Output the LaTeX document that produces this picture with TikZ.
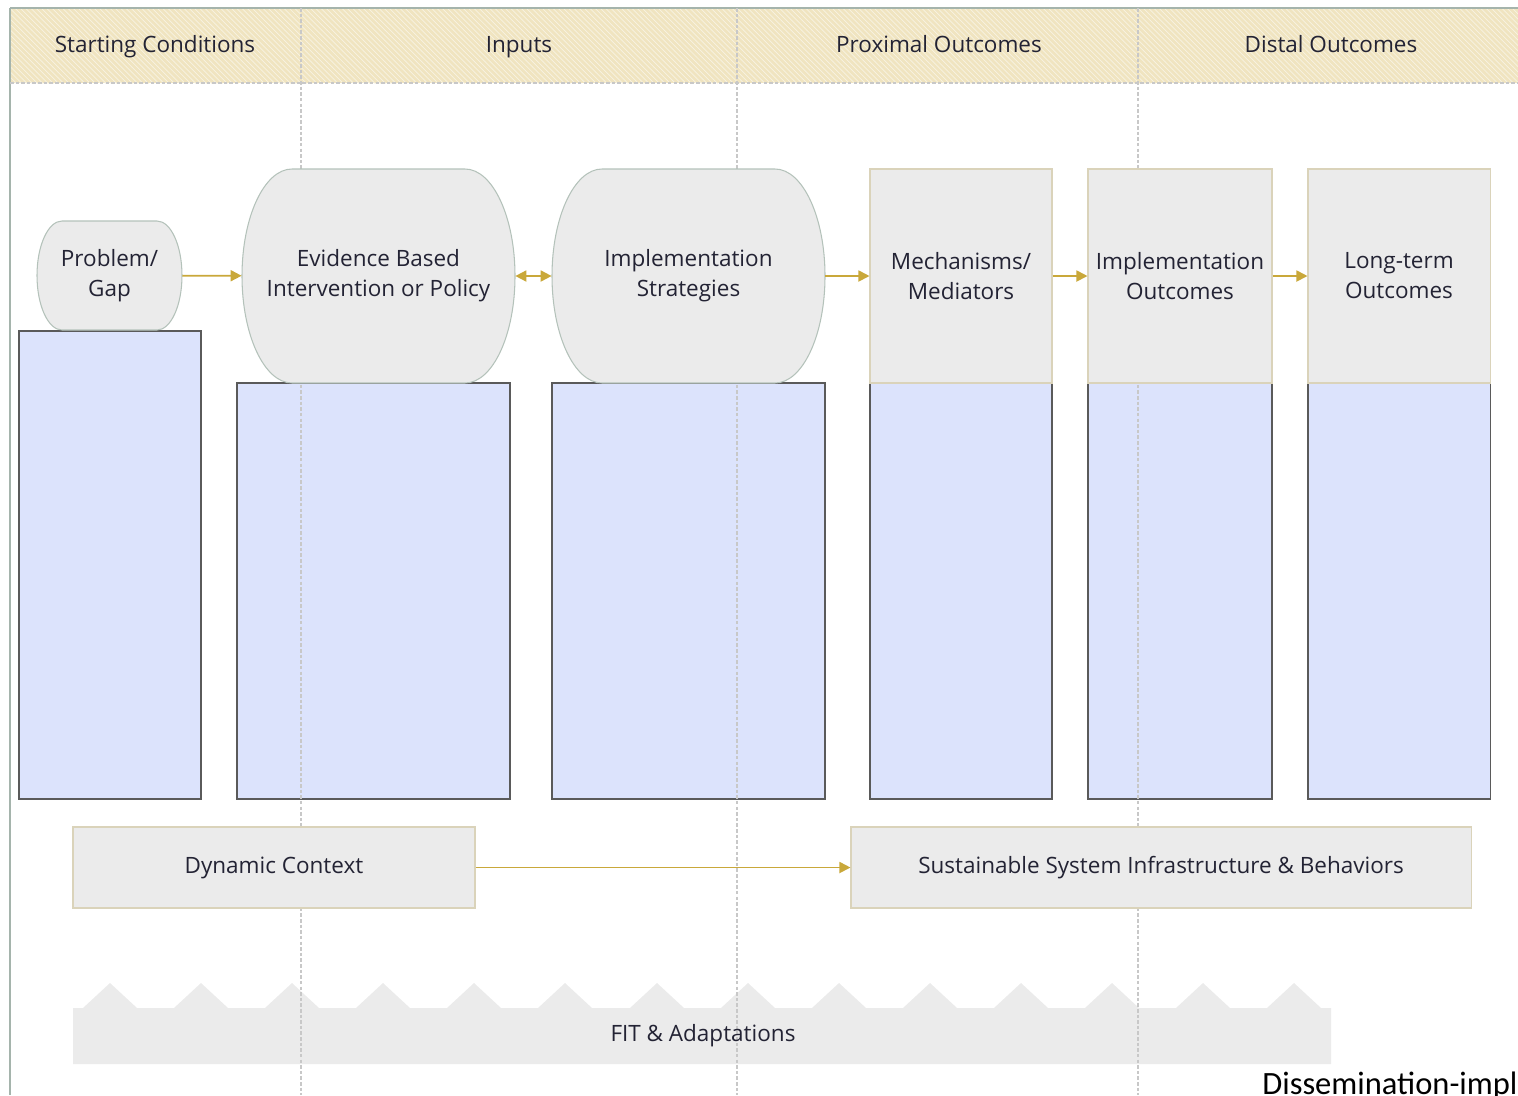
\documentclass[tikz,border=0pt]{standalone}
\usepackage{fontspec}
\setmainfont{Open Sans}
\newfontfamily\calfont{Carlito}
\usetikzlibrary{arrows.meta,patterns}

\definecolor{headfill}{RGB}{240,228,192}
\definecolor{boxgray}{RGB}{235,235,235}
\definecolor{capedge}{RGB}{180,194,186}
\definecolor{boxedge}{RGB}{218,211,186}
\definecolor{bluefill}{RGB}{220,227,252}
\definecolor{blueedge}{RGB}{90,90,90}
\definecolor{gold}{RGB}{201,168,58}
\definecolor{txt}{RGB}{35,35,52}
\definecolor{divline}{RGB}{200,200,200}
\definecolor{leftline}{RGB}{165,180,172}

\tikzset{
  lbl/.style={text=txt,font=\fontsize{12.8}{17}\selectfont,align=center,inner sep=0pt},
  head/.style={lbl,anchor=base},
  capsule/.style={fill=boxgray,draw=capedge,line width=0.6pt},
  graybox/.style={lbl,fill=boxgray,draw=boxedge,line width=0.6pt},
  bluebox/.style={fill=bluefill,draw=blueedge,line width=0.6pt},
  divider/.style={divline,dash pattern=on 2pt off 1.2pt,line width=0.6pt},
  flow/.style={gold,line width=1pt,-{Triangle[length=2.2mm,width=2.2mm]}},
  twoway/.style={flow,{Triangle[length=2.2mm,width=2.2mm]}-{Triangle[length=2.2mm,width=2.2mm]}}
}

\begin{document}
\begin{tikzpicture}[x=0.2mm,y=-0.2mm]
 \useasboundingbox (0,0) rectangle (1518,1095);

 % header band
 \fill[headfill] (10,8) rectangle (1518,83);
 \fill[pattern=north west lines,pattern color=white!55!headfill] (10,8) rectangle (1518,83);
 \draw[leftline,line width=0.8pt] (10,8) -- (1518,8);
 \draw[leftline,line width=1pt] (10,8) -- (10,1095);
 \draw[divider] (10,83) -- (1518,83);

 % blue columns
 \draw[bluebox] (19,331) rectangle (201,799);
 \draw[bluebox] (237,383) rectangle (510,799);
 \draw[bluebox] (552,383) rectangle (825,799);
 \draw[bluebox] (870,383) rectangle (1052,799);
 \draw[bluebox] (1088,383) rectangle (1272,799);
 \draw[bluebox] (1308,383) rectangle (1490,799);

 % FIT band
 \fill[boxgray] (73,1064) -- (73,1008)
   \foreach \p in {110,201,292,383,474,565,657,748,839,930,1021,1112,1203,1294} {-- (\p-27,1008) -- (\p,983) -- (\p+27,1008)}
   -- (1331,1008) -- (1331,1064) -- cycle;

 \foreach \xd in {301,737,1138}
   \draw[divider] (\xd,8) -- (\xd,1095);

 % rounded shapes
 \foreach \xa/\ya/\xb/\yb/\rx/\ry in {37/221/182/330/5/10.9, 242/169/515/383/10/21.4, 552/169/825/383/10/21.4}
   \draw[capsule] ({\xa+\rx*5},\ya) -- ({\xb-\rx*5},\ya)
     arc[start angle=90,end angle=-90,x radius=\rx mm,y radius=\ry mm]
     -- ({\xa+\rx*5},\yb)
     arc[start angle=270,end angle=90,x radius=\rx mm,y radius=\ry mm] -- cycle;

 % headings
 \node[head] (hstart) at (155,52) {Starting Conditions};
 \node[head] (hinput) at (519,52) {Inputs};
 \node[head] (hprox) at (939,52) {Proximal Outcomes};
 \node[head] (hdist) at (1331,52) {Distal Outcomes};

 % top row
 \node[lbl,minimum width=29mm,minimum height=21.8mm] (gap) at (109.5,275.5) {Problem/\\Gap};
 \node[lbl,minimum width=54.6mm,minimum height=42.8mm] (ebi) at (378.5,276) {Evidence Based\\Intervention or Policy};
 \node[lbl,minimum width=54.6mm,minimum height=42.8mm] (strat) at (688.5,276) {Implementation\\Strategies};
 \node[graybox,minimum width=36.4mm,minimum height=42.8mm] (mech) at (961,276) {Mechanisms/\\Mediators};
 \node[graybox,minimum width=36.8mm,minimum height=42.8mm] (impout) at (1180,276) {Implementation\\Outcomes};
 \node[graybox,minimum width=36.4mm,minimum height=42.8mm] (longout) at (1399,276) {Long-term\\Outcomes};

 \draw[flow] (gap) -- (ebi);
 \draw[twoway] (ebi) -- (strat);
 \draw[flow] (strat) -- (mech);
 \draw[flow] (mech) -- (impout);
 \draw[flow] (impout) -- (longout);

 % context row
 \node[graybox,minimum width=80.4mm,minimum height=16.2mm] (dyn) at (274,867.5) {Dynamic Context};
 \node[graybox,minimum width=124mm,minimum height=16.2mm] (sust) at (1161,867.5) {Sustainable System Infrastructure \& Behaviors};
 \draw[flow] (dyn) -- (sust);

 \node[lbl] (fit) at (703,1036) {FIT \& Adaptations};

 \node[anchor=base west,inner sep=0pt,font=\calfont\fontsize{18.5}{22}\selectfont] (dissem) at (1262,1094) {Dissemination-implementation};
\end{tikzpicture}
\end{document}
